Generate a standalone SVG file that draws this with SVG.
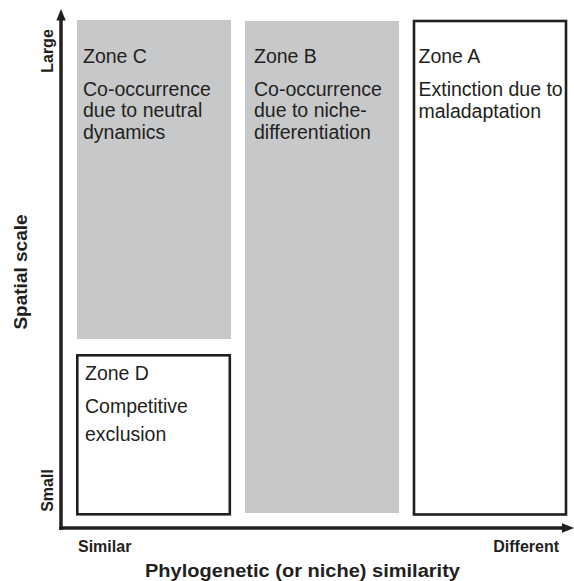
<svg xmlns="http://www.w3.org/2000/svg" width="574" height="581" viewBox="0 0 574 581">
<style>
.zone{font-family:"Liberation Sans",Arial,sans-serif;font-size:19.5px;fill:#231f20}
.ax{font-family:"Liberation Sans",Arial,sans-serif;font-weight:bold;font-size:16px;fill:#231f20}
.axt{font-family:"Liberation Sans",Arial,sans-serif;font-weight:bold;font-size:18px;fill:#231f20}
.grey{fill:#c7c8ca}
.box{fill:#fff;stroke:#231f20;stroke-width:2.6}
</style>
<defs>
<marker id="ah" viewBox="0 0 10 10" refX="10" refY="5" markerWidth="3" markerHeight="3" orient="auto" markerUnits="strokeWidth">
<path d="M0,0 L10,5 L0,10 z" fill="#231f20"/>
</marker>
</defs>
<rect width="574" height="581" fill="#fff"/>
<g id="zoneC">
<rect class="grey" x="77" y="20" width="154" height="319"/>
<text class="zone" x="83" y="63">Zone C</text>
<text class="zone" x="83" y="95.5">Co-occurrence</text>
<text class="zone" x="83" y="117">due to neutral</text>
<text class="zone" x="83" y="138.5">dynamics</text>
</g>
<g id="zoneB">
<rect class="grey" x="245" y="21" width="154" height="492"/>
<text class="zone" x="254" y="63">Zone B</text>
<text class="zone" x="254" y="95.5">Co-occurrence</text>
<text class="zone" x="254" y="117">due to niche-</text>
<text class="zone" x="254" y="138.5">differentiation</text>
</g>
<g id="zoneA">
<rect class="box" x="414" y="21" width="152" height="493.5"/>
<text class="zone" x="418.5" y="63">Zone A</text>
<text class="zone" x="418.5" y="96">Extinction due to</text>
<text class="zone" x="418.5" y="117.5">maladaptation</text>
</g>
<g id="zoneD">
<rect class="box" x="77.3" y="355.3" width="152.5" height="159"/>
<text class="zone" x="85" y="380">Zone D</text>
<text class="zone" x="85" y="413">Competitive</text>
<text class="zone" x="85" y="440.5">exclusion</text>
</g>
<g id="axes" fill="none" stroke="#231f20" stroke-width="3.5">
<path d="M61,530 L61,20"/>
<path d="M59.3,528 L563,528"/>
<path d="M61,9 L65.7,20.5 L56.3,20.5 z" fill="#231f20" stroke="none"/>
<path d="M574,528 L562,523.3 L562,532.7 z" fill="#231f20" stroke="none"/>
</g>
<g id="labels">
<text class="ax" transform="translate(52.5,51) rotate(-90)" text-anchor="middle">Large</text>
<text class="ax" transform="translate(52.5,490.5) rotate(-90)" text-anchor="middle">Small</text>
<text class="axt" transform="translate(27,272) rotate(-90)" text-anchor="middle" font-size="19px" style="font-size:19px">Spatial scale</text>
<text class="ax" x="78" y="551.7">Similar</text>
<text class="ax" x="559" y="551.7" text-anchor="end">Different</text>
<text class="axt" x="145" y="576.7" textLength="315" lengthAdjust="spacingAndGlyphs">Phylogenetic (or niche) similarity</text>
</g>
</svg>
